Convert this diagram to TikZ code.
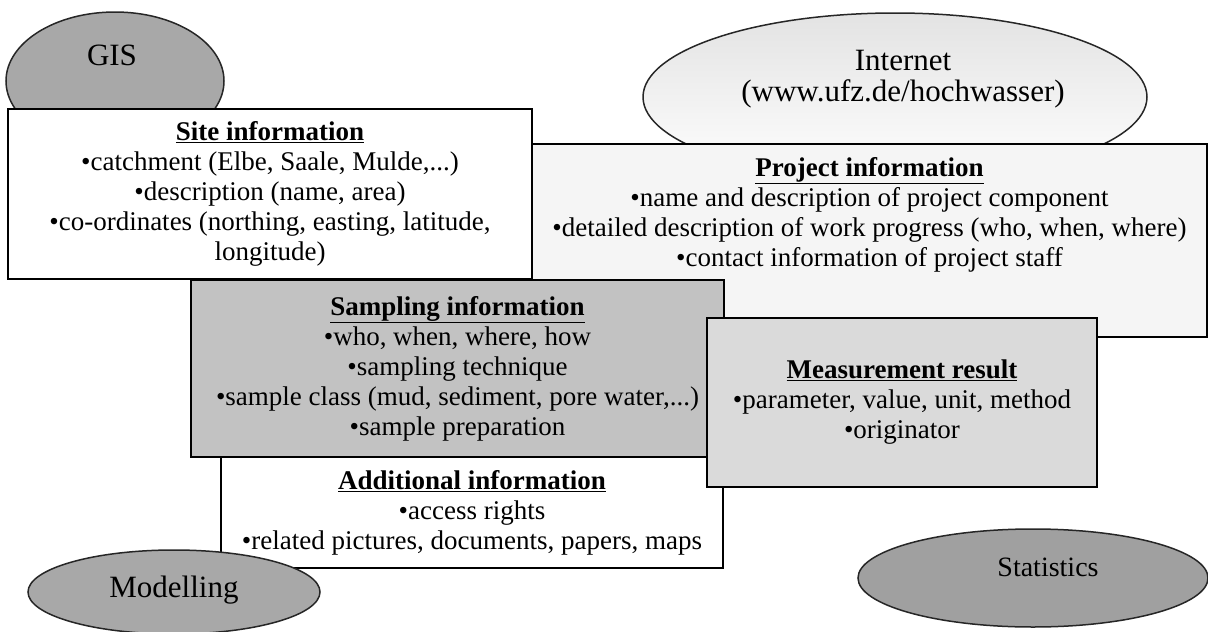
\documentclass[tikz,border=0pt]{standalone}
\usepackage{fontspec}
\setmainfont{Liberation Serif}
\usetikzlibrary{shapes.geometric,positioning}
\definecolor{bubblegray}{HTML}{A8A8A8}
\definecolor{samplegray}{HTML}{C2C2C2}
\definecolor{resultgray}{HTML}{DADADA}
\definecolor{projectgray}{HTML}{F5F5F5}
\newcommand{\hd}[1]{\underline{\textbf{#1}}}

\begin{document}
\begin{tikzpicture}[x=1pt,y=-1pt,
   infobox/.style={draw=black,line width=1.5pt,inner sep=0pt,align=center,font=\fontsize{27}{30}\selectfont},
   bubble/.style={ellipse,draw=black!85,line width=1.5pt,inner sep=0pt},
   bubbletext/.style={font=\fontsize{31}{31}\selectfont,align=center,inner sep=0pt}]
   \useasboundingbox (0,0) rectangle (1208,632);
   % top left
   \node[bubble,fill=bubblegray,minimum width=218pt,minimum height=138pt] (gis) at (115,81) {};
   \node[bubbletext] (gistext) at (112,55) {GIS};
   \node[infobox,fill=white,minimum width=524pt,minimum height=170pt] (site) at (270,194)
      {\hd{Site information}\\ •catchment (Elbe, Saale, Mulde,...)\\ •description (name, area)\\
       •co-ordinates (northing, easting, latitude,\\ longitude)};
   % top right
   \node[bubble,top color=gray!22,bottom color=white,minimum width=504pt,minimum height=168pt] (internet) at (895,97) {};
   \node[bubbletext] (internettext) at (903,79) {Internet\\ (www.ufz.de/hochwasser)};
   \node[infobox,fill=projectgray,minimum width=675pt,minimum height=193pt] (project) at (869.5,240.5) {};
   \node[infobox,draw=none,below=13pt of project.north] (projecttext)
      {\hd{Project information}\\ •name and description of project component\\
       •detailed description of work progress (who, when, where)\\ •contact information of project staff};
   % middle
   \node[infobox,fill=white,minimum width=502pt,minimum height=111pt] (additional) at (472,512.5)
      {\hd{Additional information}\\ •access rights\\ •related pictures, documents, papers, maps};
   \node[infobox,fill=samplegray,minimum width=533pt,minimum height=177pt] (sampling) at (457.5,368.5)
      {\hd{Sampling information}\\ •who, when, where, how\\ •sampling technique\\
       •sample class (mud, sediment, pore water,...)\\ •sample preparation};
   \node[infobox,fill=resultgray,minimum width=390pt,minimum height=169pt] (result) at (902,402.5)
      {\hd{Measurement result}\\ •parameter, value, unit, method\\ •originator};
   % bottom
   \node[bubble,fill=bubblegray,minimum width=292pt,minimum height=84pt] (modelling) at (174,592) {};
   \node[bubbletext] (modellingtext) at (174,590) {Modelling};
   \node[bubble,fill=bubblegray!95!black,minimum width=350pt,minimum height=98pt] (statistics) at (1033,578) {};
   \node[bubbletext,font=\fontsize{28}{28}\selectfont] (statisticstext) at (1048,567) {Statistics};
\end{tikzpicture}
\end{document}
